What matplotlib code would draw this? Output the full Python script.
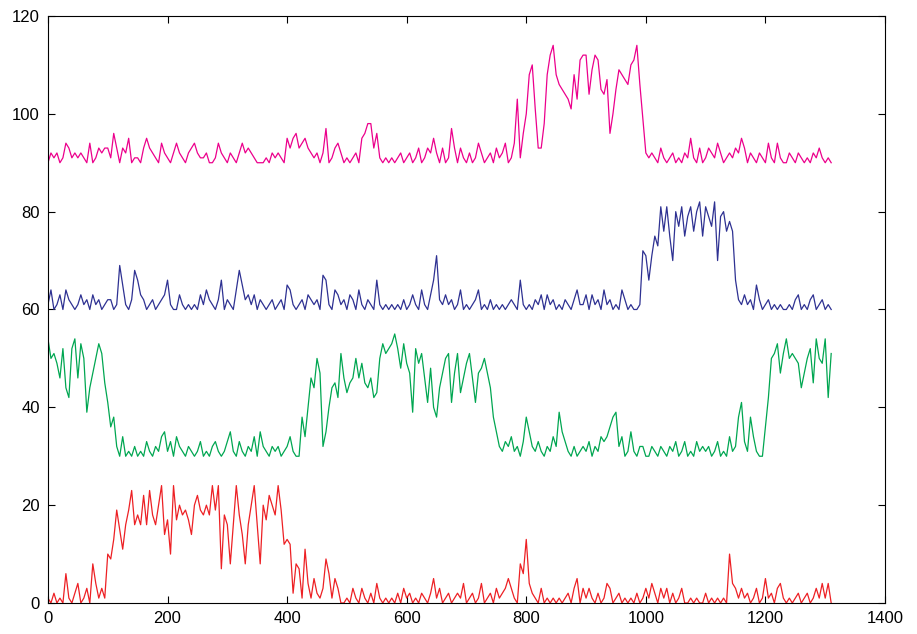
import numpy as np
from matplotlib import pyplot as plt
from matplotlib.ticker import MultipleLocator
import matplotlib as mpl

mpl.rcParams['font.family'] = 'sans-serif'
mpl.rcParams['font.sans-serif'] = ['Liberation Sans']

# samples every 5 time steps, counts above each trace's baseline
step = 5

red = [1, 0, 2, 0, 1, 0, 6, 1, 0, 2, 4, 0, 1, 3, 0, 8, 4, 1, 3, 1,
       10, 9, 13, 19, 15, 11, 16, 19, 23, 16, 18, 16, 22, 16, 23, 18, 16, 20, 24, 14,
       17, 10, 24, 17, 20, 18, 19, 17, 14, 20, 22, 19, 18, 20, 18, 24, 19, 24, 7, 18,
       16, 8, 16, 24, 18, 14, 8, 16, 20, 24, 16, 8, 20, 17, 22, 20, 18, 24, 19, 12,
       13, 12, 2, 8, 7, 1, 11, 4, 1, 5,
       2, 1, 3, 9, 6, 1, 5, 3, 0, 0, 1, 0, 3, 1, 0, 3, 1, 0, 2, 0,
       4, 1, 0, 1, 0, 1, 0, 2, 0, 3, 1, 2, 0, 1, 0, 2, 1, 0, 2, 5,
       1, 3, 0, 1, 2, 0, 1, 2, 1, 4, 0, 1, 2, 0, 1, 4, 0, 1, 2, 0,
       3, 1, 2, 3, 5, 3, 1, 0, 8, 6, 13, 4, 2, 1, 0, 3, 0, 1, 0, 1,
       0, 1, 0, 1, 2, 0, 3, 5, 0,
       3, 1, 3, 1, 0, 2, 0, 1, 4, 3, 0, 1, 2, 0, 1, 0, 1, 0, 2, 0,
       1, 3, 1, 4, 2, 0, 3, 1, 3, 0, 2, 0, 1, 3, 0, 0, 1, 0, 1, 0,
       0, 2, 0, 1, 0, 1, 0, 1, 0, 10, 4, 3, 1, 3, 1, 2, 0, 1, 3, 0,
       1, 5, 1, 2, 0, 3, 4, 1, 0, 1, 0, 1, 2, 0, 1, 2, 0, 1, 3, 1,
       4, 1, 4, 0]

green = [24, 20, 21, 19, 16, 22, 14, 12, 22, 24, 16, 23, 20, 9, 14, 17, 20, 23, 21, 15,
         11, 6, 8, 2, 0, 4, 0, 1, 0, 2, 0, 1, 0, 3, 1, 0, 2, 1, 4, 5,
         1, 3, 0, 4, 2, 1, 0, 2, 1, 0, 1, 3, 0, 1, 0, 2, 3, 1, 0, 1,
         3, 5, 1, 0, 3, 1, 0, 2, 1, 4, 0, 5, 2, 1, 0, 2, 1, 2, 0, 1,
         2, 4, 1, 0, 0, 8, 4, 10, 16, 14,
         20, 17, 2, 5, 10, 14, 15, 12, 21, 16, 13, 15, 16, 20, 16, 19, 15, 14, 16, 12,
         13, 20, 23, 21, 22, 23, 25, 22, 18, 23, 19, 17, 9, 22, 19, 21, 16, 11, 18, 10,
         8, 14, 17, 20, 21, 11, 17, 21, 13, 16, 19, 21, 16, 11, 17, 18, 20, 17, 14, 8,
         5, 2, 1, 3, 2, 4, 1, 2, 0, 3, 8, 5, 2, 1, 3, 1, 0, 2, 1, 4,
         2, 9, 5, 3, 1, 0, 2, 0, 1,
         2, 1, 3, 0, 2, 1, 4, 3, 4, 6, 8, 9, 2, 4, 0, 1, 5, 1, 0, 2,
         2, 0, 0, 2, 1, 0, 2, 1, 0, 2, 1, 3, 0, 1, 3, 0, 1, 0, 3, 1,
         2, 1, 2, 0, 1, 3, 0, 1, 0, 4, 1, 2, 8, 11, 3, 1, 8, 4, 1, 0,
         0, 6, 12, 20, 21, 23, 17, 21, 24, 20, 21, 20, 19, 14, 17, 20, 22, 15, 24, 20,
         19, 24, 12, 21]

blue = [1, 4, 0, 1, 3, 0, 4, 2, 1, 0, 1, 3, 1, 2, 0, 3, 1, 2, 0, 1,
        2, 2, 0, 1, 9, 5, 1, 0, 2, 8, 6, 3, 2, 0, 1, 2, 0, 1, 2, 3,
        6, 1, 0, 0, 3, 1, 0, 1, 0, 1, 0, 3, 1, 4, 2, 1, 0, 2, 6, 0,
        2, 1, 0, 4, 8, 5, 2, 3, 1, 3, 0, 2, 1, 0, 1, 2, 0, 1, 2, 0,
        5, 4, 1, 0, 1, 2, 0, 3, 2, 1,
        2, 0, 7, 6, 1, 0, 4, 3, 1, 2, 0, 3, 2, 0, 4, 1, 0, 2, 1, 0,
        6, 1, 0, 1, 0, 1, 0, 1, 0, 2, 0, 1, 3, 1, 0, 4, 1, 0, 3, 6,
        11, 2, 1, 3, 1, 2, 0, 1, 4, 0, 1, 0, 1, 2, 4, 0, 1, 0, 2, 0,
        1, 0, 1, 0, 1, 2, 1, 0, 6, 1, 0, 1, 0, 2, 1, 3, 0, 3, 1, 2,
        0, 1, 0, 2, 1, 0, 2, 4, 1,
        1, 3, 0, 3, 1, 2, 0, 4, 1, 2, 0, 1, 0, 4, 2, 0, 1, 0, 0, 1,
        12, 11, 6, 11, 15, 13, 21, 16, 21, 15, 10, 20, 17, 21, 15, 19, 21, 16, 20, 22,
        15, 21, 19, 17, 22, 10, 19, 20, 16, 18, 16, 6, 2, 1, 3, 1, 2, 0, 5, 2,
        0, 1, 2, 0, 1, 0, 1, 0, 0, 1, 0, 2, 3, 0, 1, 0, 2, 3, 0, 1,
        2, 0, 1, 0]

pink = [0, 2, 1, 2, 0, 1, 4, 3, 1, 2, 1, 2, 1, 0, 4, 0, 1, 3, 2, 3,
        3, 1, 6, 3, 0, 3, 2, 5, 0, 1, 1, 0, 3, 5, 3, 2, 1, 0, 4, 2,
        1, 0, 2, 4, 2, 1, 0, 2, 3, 4, 2, 1, 1, 2, 0, 0, 1, 4, 2, 1,
        0, 2, 1, 0, 2, 4, 2, 3, 2, 1, 0, 0, 0, 1, 0, 2, 1, 2, 1, 0,
        5, 3, 5, 6, 3, 4, 5, 3, 2, 1,
        2, 0, 2, 7, 0, 1, 3, 4, 2, 0, 1, 0, 1, 2, 0, 5, 6, 8, 8, 3,
        6, 1, 0, 1, 0, 1, 0, 1, 2, 0, 1, 2, 0, 1, 3, 0, 1, 3, 2, 5,
        2, 0, 3, 0, 1, 7, 3, 0, 3, 1, 0, 2, 0, 1, 4, 2, 0, 1, 2, 0,
        3, 1, 2, 4, 0, 1, 4, 13, 1, 6, 10, 18, 20, 11, 3, 3, 8, 18, 22, 24,
        18, 16, 15, 14, 13, 11, 18, 13, 21,
        22, 22, 14, 19, 22, 21, 15, 14, 17, 6, 10, 15, 19, 18, 17, 16, 20, 21, 24, 16,
        9, 2, 1, 2, 1, 0, 3, 1, 0, 1, 2, 0, 1, 0, 2, 1, 5, 1, 0, 3,
        0, 1, 3, 2, 1, 4, 2, 0, 1, 2, 1, 3, 2, 5, 3, 0, 2, 1, 0, 2,
        1, 0, 4, 1, 0, 4, 1, 0, 0, 2, 1, 0, 2, 1, 0, 1, 0, 2, 1, 3,
        1, 0, 1, 0]

series = [red, green, blue, pink]
offsets = [0, 30, 60, 90]
colors = ['#ed2024', '#00a651', '#2e3192', '#ec008c']

fig = plt.figure(figsize=(9.17, 6.34), dpi=100)
ax1 = fig.add_axes([0.0523, 0.0489, 0.9128, 0.9259])

for y, off, color in zip(series, offsets, colors):
    y = np.array(y) + off
    x = np.arange(len(y)) * step
    ax1.plot(x, y, linestyle='-', color=color, lw=0.9)

ax1.set_xlim(0, 1400)
ax1.set_ylim(0, 120)
ax1.set_xticks(np.arange(0, 1401, 200))
ax1.set_yticks(np.arange(0, 121, 20))
ax1.tick_params(direction='in', top=True, right=True, length=5, width=0.8,
                labelsize=12, pad=6)
for sp in ax1.spines.values():
    sp.set_linewidth(0.8)

fig.savefig('out.png', dpi=100)
